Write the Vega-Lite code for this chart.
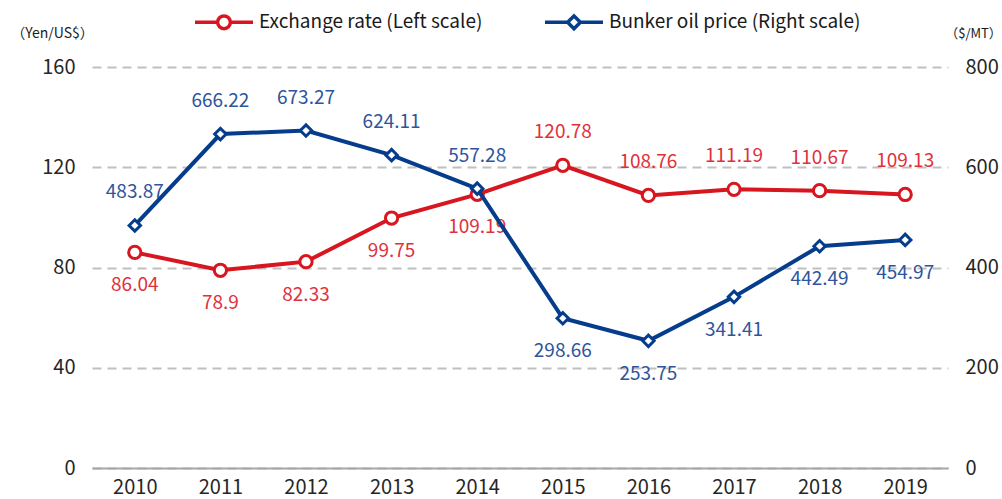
{
  "$schema": "https://vega.github.io/schema/vega-lite/v6.json",
  "width": 856,
  "height": 401,
  "autosize": "none",
  "padding": {"left": 92, "top": 67, "right": 54, "bottom": 31},
  "background": "white",
  "config": {
    "view": {"stroke": null},
    "font": "Noto Sans CJK JP",
    "legend": {
      "orient": "none",
      "legendX": 101,
      "legendY": -76,
      "direction": "horizontal",
      "columns": 2,
      "columnPadding": 55,
      "padding": 0,
      "labelFont": "Noto Sans CJK JP",
      "labelFontSize": 19,
      "labelColor": "#1a1a1a",
      "labelLimit": 400,
      "labelOffset": 4,
      "symbolSize": 3364,
      "symbolStrokeWidth": 3.5,
      "title": null
    }
  },
  "data": {
    "values": [
      {"year": "2010", "rate": 86.04, "bunker": 483.87},
      {"year": "2011", "rate": 78.9, "bunker": 666.22},
      {"year": "2012", "rate": 82.33, "bunker": 673.27},
      {"year": "2013", "rate": 99.75, "bunker": 624.11},
      {"year": "2014", "rate": 109.19, "bunker": 557.28},
      {"year": "2015", "rate": 120.78, "bunker": 298.66},
      {"year": "2016", "rate": 108.76, "bunker": 253.75},
      {"year": "2017", "rate": 111.19, "bunker": 341.41},
      {"year": "2018", "rate": 110.67, "bunker": 442.49},
      {"year": "2019", "rate": 109.13, "bunker": 454.97}
    ]
  },
  "encoding": {
    "x": {
      "field": "year",
      "type": "ordinal",
      "scale": {"type": "point", "padding": 0.5},
      "axis": {
        "title": null,
        "labelAngle": 0,
        "labelFontSize": 20,
        "labelColor": "#262626",
        "labelPadding": 9,
        "ticks": false,
        "domainColor": "#A6A6A6",
        "domainWidth": 2,
        "zindex": 1
      }
    }
  },
  "layer": [
    {
      "encoding": {
        "y": {
          "field": "rate",
          "type": "quantitative",
          "scale": {"domain": [0, 160], "nice": false},
          "axis": {
            "orient": "left",
            "values": [0, 40, 80, 120, 160],
            "title": "（Yen/US$）",
            "titleAngle": 0,
            "titleX": -40,
            "titleY": -34,
            "titleAlign": "center",
            "titleBaseline": "middle",
            "titleFontSize": 14,
            "titleFontWeight": "normal",
            "titleColor": "#1a1a1a",
            "labelFontSize": 20,
            "labelColor": "#262626",
            "labelPadding": 17,
            "domain": false,
            "ticks": false,
            "grid": true,
            "gridColor": "#BFBFBF",
            "gridDash": [9, 6],
            "gridWidth": 2
          }
        }
      },
      "layer": [
        {
          "mark": {"type": "line", "strokeWidth": 4},
          "encoding": {
            "color": {
              "datum": "Exchange rate (Left scale)",
              "scale": {
                "domain": ["Exchange rate (Left scale)", "Bunker oil price (Right scale)"],
                "range": ["#D7161F", "#053D8C"]
              },
              "legend": {
                "encode": {
                  "symbols": {
                    "update": {
                      "fill": {"value": "white"},
                      "strokeWidth": {"value": 3.5},
                      "shape": {"signal": "datum.value === 'Exchange rate (Left scale)' ? 'M-1,0H-0.22M0.22,0A0.22,0.22,0,1,1,-0.22,0A0.22,0.22,0,1,1,0.22,0M0.22,0H1' : 'M-1,0H-0.22M0.22,0H1M0,-0.22L0.22,0L0,0.22L-0.22,0Z'"}
                    }
                  }
                }
              }
            }
          }
        },
        {
          "mark": {"type": "point", "shape": "circle", "filled": true, "fill": "white", "size": 150, "strokeWidth": 3, "opacity": 1},
          "encoding": {
            "stroke": {"value": "#D7161F"}
          }
        },
        {
          "transform": [{"filter": "datum.year <= '2014'"}],
          "mark": {"type": "text", "dy": 33, "fontSize": 19, "color": "#E0313B", "baseline": "middle"},
          "encoding": {"text": {"field": "rate", "type": "nominal"}}
        },
        {
          "transform": [{"filter": "datum.year >= '2015'"}],
          "mark": {"type": "text", "dy": -33, "fontSize": 19, "color": "#E0313B", "baseline": "middle"},
          "encoding": {"text": {"field": "rate", "type": "nominal"}}
        }
      ]
    },
    {
      "encoding": {
        "y": {
          "field": "bunker",
          "type": "quantitative",
          "scale": {"domain": [0, 800], "nice": false},
          "axis": {
            "orient": "right",
            "values": [0, 200, 400, 600, 800],
            "title": "（$/MT）",
            "titleAngle": 0,
            "titleX": 25,
            "titleY": -34,
            "titleAlign": "center",
            "titleBaseline": "middle",
            "titleFontSize": 13,
            "titleFontWeight": "normal",
            "titleColor": "#1a1a1a",
            "labelFontSize": 20,
            "labelColor": "#262626",
            "labelPadding": 17,
            "domain": false,
            "ticks": false,
            "grid": false
          }
        }
      },
      "layer": [
        {
          "mark": {"type": "line", "strokeWidth": 4},
          "encoding": {
            "color": {
              "datum": "Bunker oil price (Right scale)",
              "legend": {
                "encode": {
                  "symbols": {
                    "update": {
                      "fill": {"value": "white"},
                      "strokeWidth": {"value": 3.5},
                      "shape": {"signal": "datum.value === 'Exchange rate (Left scale)' ? 'M-1,0H-0.22M0.22,0A0.22,0.22,0,1,1,-0.22,0A0.22,0.22,0,1,1,0.22,0M0.22,0H1' : 'M-1,0H-0.22M0.22,0H1M0,-0.22L0.22,0L0,0.22L-0.22,0Z'"}
                    }
                  }
                }
              }
            }
          }
        },
        {
          "mark": {"type": "point", "shape": "diamond", "filled": true, "fill": "white", "size": 130, "strokeWidth": 3, "opacity": 1},
          "encoding": {
            "stroke": {"value": "#053D8C"}
          }
        },
        {
          "transform": [{"filter": "datum.year <= '2014'"}],
          "mark": {"type": "text", "dy": -33, "fontSize": 19, "color": "#2E559C", "baseline": "middle"},
          "encoding": {"text": {"field": "bunker", "type": "nominal"}}
        },
        {
          "transform": [{"filter": "datum.year >= '2015'"}],
          "mark": {"type": "text", "dy": 33, "fontSize": 19, "color": "#2E559C", "baseline": "middle"},
          "encoding": {"text": {"field": "bunker", "type": "nominal"}}
        }
      ]
    }
  ],
  "resolve": {"scale": {"y": "independent"}, "axis": {"y": "independent"}}
}
